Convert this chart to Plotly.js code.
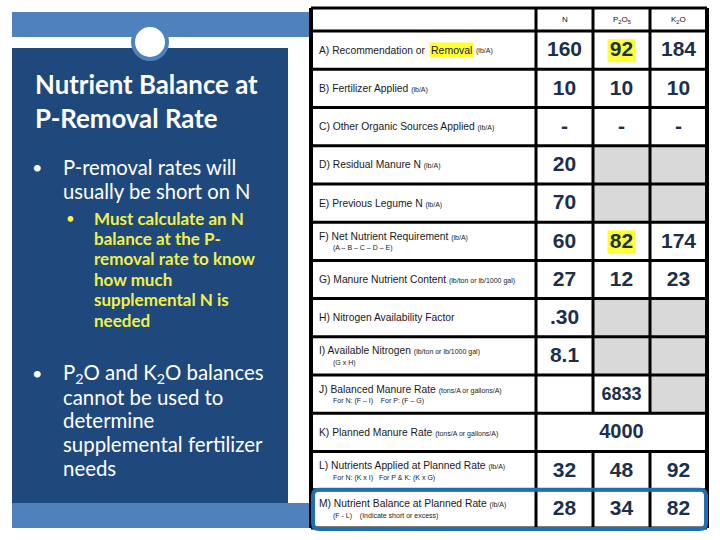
<!DOCTYPE html>
<html><head><meta charset="utf-8">
<script src="https://cdn.plot.ly/plotly-3.0.1.min.js"></script>
<style>html,body{margin:0;padding:0;background:#fff}#chart{width:720px;height:540px}</style>
</head><body><div id="chart"></div>
<script>
// ---------- content ----------
const titleLines = ["Nutrient Balance at", "P-Removal Rate"];
const bullet1 = ["P-removal rates will", "usually be short on N"];
const subBullet = ["Must calculate an N", "balance at the P-", "removal rate to know", "how much", "supplemental N is", "needed"];
const bullet2 = ["P<sub>2</sub>O and K<sub>2</sub>O balances", "cannot be used to", "determine", "supplemental fertilizer", "needs"];

const nutrients = ["N", "P<sub>2</sub>O<sub>5</sub>", "K<sub>2</sub>O"];
const rowLabels = [
  "A) Recommendation or",
  "B) Fertilizer Applied",
  "C) Other Organic Sources Applied",
  "D) Residual Manure N",
  "E) Previous Legume N",
  "F) Net Nutrient Requirement",
  "G) Manure Nutrient Content",
  "H) Nitrogen Availability Factor",
  "I) Available Nitrogen",
  "J) Balanced Manure Rate",
  "K) Planned Manure Rate",
  "L) Nutrients Applied at Planned Rate",
  "M) Nutrient Balance at Planned Rate"
];
const highlightedWord = "Removal";
const rowUnits = ["(lb/A)", "(lb/A)", "(lb/A)", "(lb/A)", "(lb/A)", "(lb/A)",
  "(lb/ton or lb/1000 gal)", "", "(lb/ton or lb/1000 gal)",
  "(tons/A or gallons/A)", "(tons/A or gallons/A)", "(lb/A)", "(lb/A)"];
const rowNotes = ["", "", "", "", "", "(A – B – C – D – E)", "", "", "(G x H)",
  "For N: (F – I)    For P: (F – G)", "", "For N: (K x I)   For P & K: (K x G)",
  "(F - L)    (Indicate short or excess)"];
const nValues = ["160", "10", "-", "20", "70", "60", "27", ".30", "8.1", "", "", "32", "28"];
const pValues = ["92", "10", "-", "", "", "82", "12", "", "", "6833", "", "48", "34"];
const kValues = ["184", "10", "-", "", "", "174", "23", "", "", "", "", "92", "82"];
const pShaded = [0, 0, 0, 1, 1, 0, 0, 1, 1, 0, 0, 0, 0];
const kShaded = [0, 0, 0, 1, 1, 0, 0, 1, 1, 1, 0, 0, 0];
const pHighlighted = [1, 0, 0, 0, 0, 1, 0, 0, 0, 0, 0, 0, 0];
const plannedRateRow = 10;
const plannedRate = "4000";

// ---------- layout geometry ----------
const X = [311, 536, 593, 650, 707];
const headTop = 8, headBot = 31, rowH = 38.23;
const nRows = rowLabels.length;
const rowTop = i => headBot + i * rowH;
const rowMid = i => headBot + (i + 0.5) * rowH;
const colMid = c => (X[c] + X[c + 1]) / 2;

const DARK = "#1f497d", LIGHT = "#4f81bd", NUM = "#1c2f4c", YEL = "#ffff33";
const LBL = "Liberation Sans, Arial";
const shapes = [];
const annotations = [];
const rect = (x0, y0, x1, y1, fill, extra) => shapes.push(Object.assign({type: "rect", xref: "x", yref: "y", x0, y0, x1, y1, fillcolor: fill, line: {width: 0}, layer: "below"}, extra || {}));
const line = (x0, y0, x1, y1, w) => shapes.push({type: "line", xref: "x", yref: "y", x0, y0, x1, y1, line: {color: "#000", width: w || 3}, layer: "below"});

// left panel
rect(12, 12, 318, 37, LIGHT);
rect(12, 48, 288, 503, DARK);
rect(12, 503, 318, 528, LIGHT);
shapes.push({type: "circle", xref: "x", yref: "y", x0: 133, y0: 25, x1: 167, y1: 59, fillcolor: "#ffffff", line: {color: LIGHT, width: 4}, layer: "below"});

// table background
rect(X[0], headTop, X[4], rowTop(nRows), "#ffffff");
for (let i = 0; i < nRows; i++) {
  if (pShaded[i]) rect(X[2], rowTop(i), X[3], rowTop(i + 1), "#d9d9d9");
  if (kShaded[i]) rect(X[3], rowTop(i), X[4], rowTop(i + 1), "#d9d9d9");
  if (pHighlighted[i]) rect(colMid(2) - 14, rowMid(i) - 11, colMid(2) + 14, rowMid(i) + 12, YEL);
}

// grid lines
const yEdges = [headTop, headBot];
for (let i = 1; i <= nRows; i++) yEdges.push(rowTop(i));
yEdges.forEach(y => line(X[0], y, X[4], y, 3));
line(X[0], headTop, X[0], rowTop(nRows), 4);
line(X[4], headTop, X[4], rowTop(nRows), 4);
line(X[1], headTop, X[1], rowTop(nRows), 3);
[X[2], X[3]].forEach(x => {
  line(x, headTop, x, rowTop(plannedRateRow), 3);
  line(x, rowTop(plannedRateRow + 1), x, rowTop(nRows), 3);
});

// highlighted final row
{
  const x0 = X[0] + 2, x1 = X[4] - 1, y0 = rowTop(nRows - 1), y1 = rowTop(nRows) + 1, r = 6;
  shapes.push({type: "path", xref: "x", yref: "y", layer: "below",
    path: `M ${x0 + r} ${y0} L ${x1 - r} ${y0} Q ${x1} ${y0} ${x1} ${y0 + r} L ${x1} ${y1 - r} Q ${x1} ${y1} ${x1 - r} ${y1} L ${x0 + r} ${y1} Q ${x0} ${y1} ${x0} ${y1 - r} L ${x0} ${y0 + r} Q ${x0} ${y0} ${x0 + r} ${y0} Z`,
    line: {color: "#1f6fb6", width: 4}, fillcolor: "rgba(0,0,0,0)"});
}

// headers
nutrients.forEach((t, c) => annotations.push({x: colMid(c + 1), y: (headTop + headBot) / 2, xref: "x", yref: "y", text: t, showarrow: false, font: {family: LBL, size: 8, color: "#111"}}));

// row labels
const txt = (text, x, y, size, extra) => annotations.push(Object.assign({x, y, xref: "x", yref: "y", xanchor: "left", yanchor: "middle",
  text, showarrow: false, font: {family: LBL, size, color: "#1a1a1a"}}, extra || {}));
rowLabels.forEach((lab, i) => {
  const hasNote = rowNotes[i] !== "";
  const y = hasNote ? rowMid(i) - 5 : rowMid(i);
  const unit = rowUnits[i] ? ` <span style="font-size:7px">${rowUnits[i]}</span>` : "";
  if (i === 0) {
    txt(lab, 317, y, 10.3);
    txt(highlightedWord, 429, y, 10.5, {bgcolor: YEL, borderpad: 1});
    txt(`<span style="font-size:7px">${rowUnits[i]}</span>`, 474, y + 1, 7);
  } else {
    txt(lab + unit, 317, y, 10.3);
  }
  if (hasNote) txt(rowNotes[i], 331, rowMid(i) + 7, 7);
});

// left text
const leftText = (t, x, y, size, color, weight) => annotations.push({x, y, xref: "x", yref: "y", xanchor: "left", yanchor: "middle", text: t, showarrow: false, font: {family: "Lato", size, color, weight: weight || 400}});
titleLines.forEach((t, i) => leftText(t, 33, 84 + i * 34, 25.8, "#ffffff", 700));
leftText("•", 30, 167, 18, "#ffffff");
bullet1.forEach((t, i) => leftText(t, 61, 167 + i * 23.5, 20.2, "#ffffff"));
leftText("•", 64, 218, 15, YEL);
subBullet.forEach((t, i) => leftText(t, 92, 218 + i * 20.4, 17, "#f0f04a", 700));
leftText("•", 30, 373, 18, "#ffffff");
bullet2.forEach((t, i) => leftText(t, 61, 373 + i * 23.7, 20.4, "#ffffff"));

// number cells
const numX = [], numY = [], numT = [], numS = [];
[nValues, pValues, kValues].forEach((vals, c) => vals.forEach((v, i) => {
  if (v === "") return;
  numX.push(colMid(c + 1)); numY.push(rowMid(i) + 1); numT.push(v); numS.push(v.length > 3 ? 18 : 21);
}));
numX.push((X[1] + X[4]) / 2); numY.push(rowMid(plannedRateRow) + 1); numT.push(plannedRate); numS.push(20);

const data = [{
  type: "scatter", mode: "text", x: numX, y: numY, text: numT,
  textfont: {family: LBL, size: numS, color: NUM, weight: 700},
  textposition: "middle center", hoverinfo: "skip", showlegend: false
}];

const layout = {
  width: 720, height: 540, margin: {l: 0, r: 0, t: 0, b: 0},
  paper_bgcolor: "#ffffff", plot_bgcolor: "#ffffff",
  xaxis: {range: [0, 720], visible: false, fixedrange: true},
  yaxis: {range: [540, 0], visible: false, fixedrange: true},
  shapes, annotations, showlegend: false
};
Plotly.newPlot("chart", data, layout, {staticPlot: true, displayModeBar: false});
</script></body></html>
